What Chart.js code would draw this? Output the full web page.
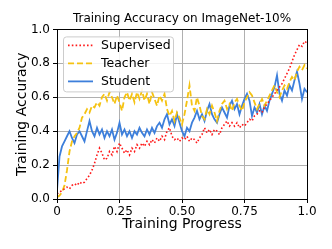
<!DOCTYPE html>
<html>
<head>
<meta charset="utf-8">
<script src="https://cdn.jsdelivr.net/npm/chart.js@4"></script>
<style>
  html, body { margin: 0; padding: 0; background: #fff; }
  #wrap { width: 332px; height: 249px; }
</style>
</head>
<body>
<div id="wrap"><canvas id="accChart" width="332" height="249"></canvas></div>
<script>
var progress = [0.00, 0.01, 0.02, 0.03, 0.04, 0.05, 0.06, 0.07, 0.08, 0.09,
    0.10, 0.11, 0.12, 0.13, 0.14, 0.15, 0.16, 0.17, 0.18, 0.19,
    0.20, 0.21, 0.22, 0.23, 0.24, 0.25, 0.26, 0.27, 0.28, 0.29,
    0.30, 0.31, 0.32, 0.33, 0.34, 0.35, 0.36, 0.37, 0.38, 0.39,
    0.40, 0.41, 0.42, 0.43, 0.44, 0.45, 0.46, 0.47, 0.48, 0.49,
    0.50, 0.51, 0.52, 0.53, 0.54, 0.55, 0.56, 0.57, 0.58, 0.59,
    0.60, 0.61, 0.62, 0.63, 0.64, 0.65, 0.66, 0.67, 0.68, 0.69,
    0.70, 0.71, 0.72, 0.73, 0.74, 0.75, 0.76, 0.77, 0.78, 0.79,
    0.80, 0.81, 0.82, 0.83, 0.84, 0.85, 0.86, 0.87, 0.88, 0.89,
    0.90, 0.91, 0.92, 0.93, 0.94, 0.95, 0.96, 0.97, 0.98, 0.99, 1.00];

var supervised = [0.03, 0.04, 0.05, 0.06, 0.07, 0.06, 0.08, 0.09, 0.08, 0.10,
    0.09, 0.10, 0.12, 0.14, 0.17, 0.21, 0.26, 0.30, 0.27, 0.23,
    0.24, 0.28, 0.26, 0.31, 0.28, 0.33, 0.30, 0.27, 0.29, 0.26,
    0.30, 0.28, 0.32, 0.30, 0.33, 0.31, 0.34, 0.32, 0.35, 0.33,
    0.36, 0.34, 0.37, 0.35, 0.40, 0.42, 0.37, 0.35, 0.36, 0.34,
    0.36, 0.35, 0.37, 0.34, 0.36, 0.35, 0.33, 0.36, 0.38, 0.42,
    0.39, 0.41, 0.38, 0.41, 0.40, 0.38, 0.42, 0.44, 0.46, 0.43,
    0.45, 0.43, 0.45, 0.42, 0.44, 0.43, 0.45, 0.47, 0.46, 0.49,
    0.50, 0.52, 0.51, 0.54, 0.56, 0.58, 0.60, 0.62, 0.64, 0.66,
    0.68, 0.71, 0.74, 0.77, 0.81, 0.85, 0.88, 0.91, 0.90, 0.93, 0.92];

var teacher = [0.01, 0.02, 0.04, 0.08, 0.17, 0.28, 0.34, 0.37, 0.39, 0.42,
    0.48, 0.50, 0.53, 0.51, 0.55, 0.54, 0.57, 0.55, 0.60, 0.62,
    0.58, 0.63, 0.60, 0.56, 0.61, 0.57, 0.52, 0.60, 0.63, 0.58,
    0.62, 0.57, 0.63, 0.59, 0.64, 0.58, 0.62, 0.56, 0.63, 0.59,
    0.55, 0.61, 0.58, 0.62, 0.53, 0.49, 0.52, 0.46, 0.51, 0.48,
    0.44, 0.50, 0.58, 0.67, 0.55, 0.52, 0.60, 0.55, 0.49, 0.47,
    0.53, 0.50, 0.55, 0.51, 0.46, 0.52, 0.56, 0.58, 0.53, 0.56,
    0.52, 0.57, 0.59, 0.55, 0.52, 0.57, 0.60, 0.63, 0.61, 0.57,
    0.53, 0.56, 0.59, 0.55, 0.58, 0.61, 0.64, 0.67, 0.63, 0.60,
    0.64, 0.67, 0.65, 0.69, 0.72, 0.70, 0.75, 0.78, 0.76, 0.79, 0.77];

var student = [0.05, 0.25, 0.31, 0.34, 0.37, 0.40, 0.36, 0.33, 0.38, 0.40,
    0.37, 0.34, 0.40, 0.46, 0.40, 0.37, 0.42, 0.38, 0.41, 0.36,
    0.40, 0.37, 0.41, 0.35, 0.39, 0.45, 0.38, 0.41, 0.37, 0.40,
    0.36, 0.40, 0.38, 0.42, 0.39, 0.37, 0.41, 0.38, 0.42, 0.39,
    0.43, 0.45, 0.42, 0.47, 0.50, 0.44, 0.47, 0.43, 0.50, 0.45,
    0.40, 0.37, 0.42, 0.40, 0.45, 0.48, 0.52, 0.47, 0.50, 0.46,
    0.52, 0.56, 0.50, 0.47, 0.45, 0.50, 0.54, 0.51, 0.48, 0.55,
    0.58, 0.53, 0.56, 0.50, 0.55, 0.59, 0.62, 0.58, 0.49, 0.54,
    0.51, 0.56, 0.50, 0.55, 0.52, 0.58, 0.62, 0.66, 0.73, 0.62,
    0.58, 0.64, 0.61, 0.67, 0.64, 0.70, 0.75, 0.68, 0.59, 0.65, 0.63];

var xTicks = ['0', '0.25', '0.50', '0.75', '1.0'];
var yTicks = ['0.0', '0.2', '0.4', '0.6', '0.8', '1.0'];

var FONT = "'DejaVu Sans', sans-serif";

function toPoints(ys) {
    var pts = [];
    for (var i = 0; i < progress.length; i++) {
        pts.push({ x: progress[i], y: ys[i] });
    }
    return pts;
}

// matplotlib-like frame + legend box inside the axes
var framePlugin = {
    id: 'frame',
    afterDatasetsDraw: function (chart) {
        var a = chart.chartArea;
        var ctx = chart.ctx;
        ctx.save();
        ctx.strokeStyle = '#000';
        ctx.lineWidth = 1;
        ctx.strokeRect(Math.round(a.left) + 0.5, Math.round(a.top) + 0.5,
            Math.round(a.right - a.left), Math.round(a.bottom - a.top));

        // legend
        var bx = a.left + 6, by = a.top + 7, bw = 110, bh = 55;
        ctx.fillStyle = 'rgba(255,255,255,0.85)';
        ctx.strokeStyle = '#cccccc';
        ctx.beginPath();
        ctx.roundRect(bx + 0.5, by + 0.5, bw, bh, 3);
        ctx.fill();
        ctx.stroke();
        ctx.font = '12.5px ' + FONT;
        ctx.textBaseline = 'middle';
        chart.data.datasets.forEach(function (ds, i) {
            var yy = by + 9 + i * 18;
            ctx.strokeStyle = ds.borderColor;
            ctx.lineWidth = ds.borderWidth;
            ctx.setLineDash(ds.borderDash || []);
            ctx.beginPath();
            ctx.moveTo(bx + 5, yy);
            ctx.lineTo(bx + 30, yy);
            ctx.stroke();
            ctx.setLineDash([]);
            ctx.fillStyle = '#000';
            ctx.fillText(ds.label, bx + 38, yy + 0.5);
        });
        ctx.restore();
    }
};

var ctx = document.getElementById('accChart').getContext('2d');
var accChart = new Chart(ctx, {
    type: 'line',
    data: {
        datasets: [{
            label: 'Supervised',
            data: toPoints(supervised),
            borderColor: '#ff1a1a',
            borderWidth: 1.6,
            borderDash: [1.6, 2.2],
            pointRadius: 0,
            tension: 0,
            fill: false
        }, {
            label: 'Teacher',
            data: toPoints(teacher),
            borderColor: '#f5c211',
            borderWidth: 1.8,
            borderDash: [6, 3],
            pointRadius: 0,
            tension: 0,
            fill: false
        }, {
            label: 'Student',
            data: toPoints(student),
            borderColor: '#3d7fdb',
            borderWidth: 1.8,
            pointRadius: 0,
            tension: 0,
            fill: false
        }]
    },
    options: {
        responsive: false,
        animation: false,
        devicePixelRatio: 1,
        layout: { padding: { left: 14, right: 25, top: 0, bottom: 16 } },
        plugins: {
            legend: { display: false },
            tooltip: { enabled: false },
            title: {
                display: true,
                fullSize: false,
                text: 'Training Accuracy on ImageNet-10%',
                color: '#000',
                font: { family: FONT, size: 12, weight: 'normal' },
                padding: { top: 12, bottom: 3 }
            }
        },
        scales: {
            x: {
                type: 'linear',
                min: 0,
                max: 1,
                afterFit: function (s) { s.height = 34; },
                afterBuildTicks: function (s) {
                    s.ticks = [0, 0.25, 0.5, 0.75, 1].map(function (v) { return { value: v }; });
                },
                ticks: {
                    color: '#000',
                    font: { family: FONT, size: 12 },
                    padding: 2,
                    maxRotation: 0,
                    callback: function (v, i) { return xTicks[i]; }
                },
                grid: { color: '#b0b0b0', lineWidth: 1, tickColor: '#000', tickLength: 4 },
                border: { color: '#000' },
                title: {
                    display: true,
                    text: 'Training Progress',
                    color: '#000',
                    font: { family: FONT, size: 14 },
                    padding: { top: 0, bottom: 0 }
                }
            },
            y: {
                min: 0,
                max: 1,
                afterFit: function (s) { s.width = 43; },
                afterBuildTicks: function (s) {
                    s.ticks = [0, 0.2, 0.4, 0.6, 0.8, 1].map(function (v) { return { value: v }; });
                },
                ticks: {
                    color: '#000',
                    font: { family: FONT, size: 12 },
                    padding: 3,
                    callback: function (v, i) { return yTicks[i]; }
                },
                grid: { color: '#b0b0b0', lineWidth: 1, tickColor: '#000', tickLength: 4 },
                border: { color: '#000' },
                title: {
                    display: true,
                    text: 'Training Accuracy',
                    color: '#000',
                    font: { family: FONT, size: 14 },
                    padding: { top: 0, bottom: 0 }
                }
            }
        }
    },
    plugins: [framePlugin]
});
</script>
</body>
</html>
